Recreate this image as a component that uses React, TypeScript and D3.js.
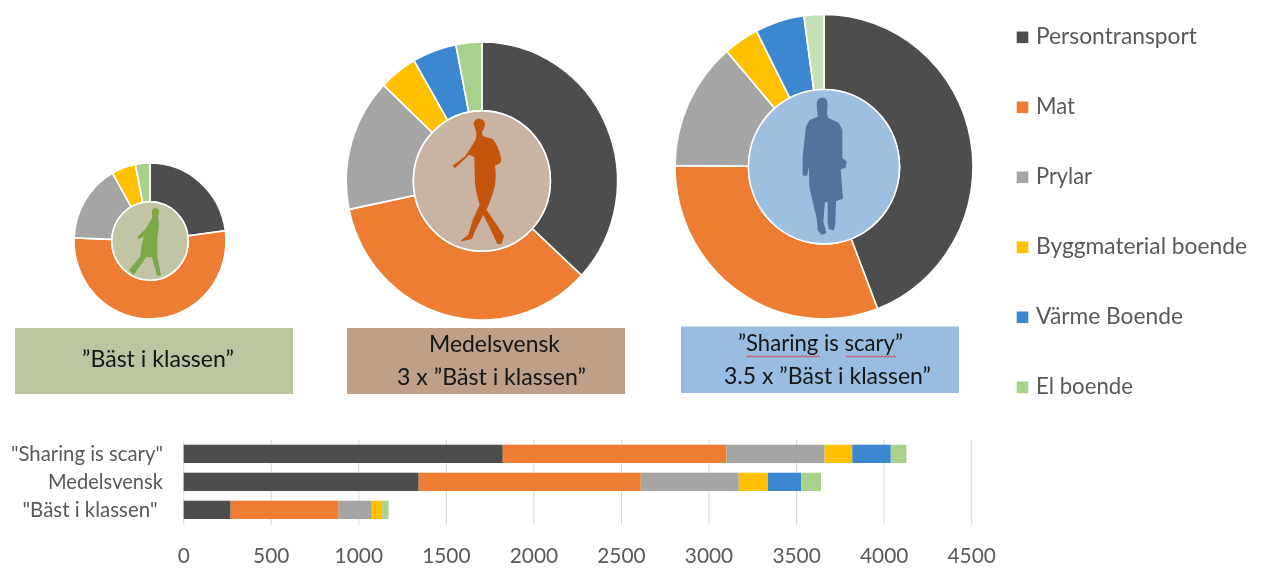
import React from "react";
import * as d3 from "d3";

const categories = ["Persontransport", "Mat", "Prylar", "Byggmaterial boende", "Värme Boende", "El boende"];
const colors = ["#4d4d4d", "#ed7d31", "#a5a5a5", "#ffc000", "#3e86d0", "#a7d18c"];
const sharing = [1822, 1278, 560, 158, 220, 89];
const medel = [1342, 1268, 560, 166, 191, 112];
const bast = [268, 617, 189, 60, 0, 36];
const barLabels = ['"Sharing is scary"', "Medelsvensk", '"Bäst i klassen"'];
const barLabelLengths = [152, 115, 135];
const ticks = [0, 500, 1000, 1500, 2000, 2500, 3000, 3500, 4000, 4500];
const legendLengths = [161, 39, 56, 211, 147, 97];

const FONT = "Lato, 'Open Sans', sans-serif";

const x = d3.scaleLinear().domain([0, 4500]).range([183.7, 971.7]);
const y = d3.scaleBand<string>().domain(barLabels).range([444.7, 519]).paddingInner(0.346).paddingOuter(0);

const orangePerson = "M88 40Q90 28 102 28Q118 30 118 44Q116 58 108 66L112 80L140 88Q158 105 166 145Q168 155 160 160L148 165Q152 200 148 225Q140 260 122 300L150 340L175 378L168 400L158 400L140 360L115 310L88 362L80 385L50 392L72 375L85 330L106 285Q95 250 92 220L90 140L72 132L30 172L25 168L62 140L88 100Q98 85 96 68Z";
const bluePerson = "M82 40Q84 25 97 25Q110 25 111 40L109 70L113 85L145 100L155 120L155 205L168 215L165 232L153 235L150 240L157 325L136 332L134 400L130 420L118 415L115 395L115 335L103 335L98 395L107 428L95 432L85 420L82 385L70 335L60 290L58 210L50 255L40 255L40 200L50 110L60 92L85 82Z";
const greenPerson = "M82 35Q84 25 92 26Q102 28 100 40L97 50L100 75L95 115L95 170L106 225L98 225L82 170L62 170L25 222L15 210L48 170L52 135L60 105L42 115L40 110L62 90L80 60L84 50Z";

const donuts = [
  { values: bast, cx: 150, cy: 241, rx: 76, ry: 78, inner: 38.2, hub: "#c1c5a6", person: greenPerson, personFill: "#7ba84a", px: 125, py: 200, elColor: colors[5] },
  { values: medel, cx: 481.9, cy: 181, rx: 135.7, ry: 139, inner: 68.5, hub: "#c9b3a3", person: orangePerson, personFill: "#c5540f", px: 445, py: 110, elColor: colors[5] },
  { values: sharing, cx: 824, cy: 166.7, rx: 149, ry: 152.3, inner: 75.5, hub: "#9dc0e0", person: bluePerson, personFill: "#55729c", px: 790, py: 90, elColor: "#c5e0b4" },
];

const boxes = [
  { x: 15, y: 328, w: 278, h: 66, fill: "#bac5a2", lines: [{ t: "”Bäst i klassen”", cx: 158, b: 367, len: 152 }] },
  { x: 347, y: 328, w: 278, h: 66, fill: "#bd9f8a", lines: [{ t: "Medelsvensk", cx: 494.5, b: 352, len: 131 }, { t: "3 x ”Bäst i klassen”", cx: 491.5, b: 385, len: 189 }] },
  { x: 681, y: 326.5, w: 278, h: 66.5, fill: "#99bde0", lines: [{ t: "”Sharing is scary”", cx: 820.5, b: 351, len: 165 }, { t: "3.5 x ”Bäst i klassen”", cx: 827.5, b: 384, len: 207 }] },
];

function squiggle(x0: number, x1: number, yy: number) {
  const pts: [number, number][] = [];
  let i = 0;
  for (let px = x0; px <= x1; px += 2, i++) pts.push([px, yy + (i % 2 ? 1.2 : -0.2)]);
  return d3.line()(pts) || "";
}

function Donut({ d }: { d: (typeof donuts)[number] }) {
  const k = d.ry / d.rx;
  const pie = d3.pie<number>().sort(null);
  const arc = d3.arc<d3.PieArcDatum<number>>().innerRadius(d.inner).outerRadius(d.rx);
  const arcs = pie(d.values);
  return (
    <g>
      <g transform={`translate(${d.cx},${d.cy}) scale(1,${k})`}>
        {arcs.map((a, i) =>
          a.value > 0 ? (
            <path key={i} d={arc(a) || ""} fill={i === 5 ? d.elColor : colors[i]} stroke="#fff" strokeWidth={1.6} />
          ) : null
        )}
        <circle r={d.inner} fill={d.hub} stroke="#fff" strokeWidth={1.6} />
      </g>
      <path d={d.person} fill={d.personFill} stroke={d.personFill} strokeWidth={4} strokeLinejoin="round" transform={`translate(${d.px},${d.py}) scale(${1 / 3})`} />
    </g>
  );
}

export default function App() {
  const series = [sharing, medel, bast];
  return (
    <svg width={1265} height={570} viewBox="0 0 1265 570" style={{ position: "absolute", left: 0, top: 0, display: "block", background: "#fff" }} fontFamily={FONT}>
      <defs>
        <filter id="soft" x="-2%" y="-2%" width="104%" height="104%">
          <feGaussianBlur stdDeviation="0.4" />
        </filter>
      </defs>
      <g filter="url(#soft)">
        {donuts.map((d, i) => <Donut key={i} d={d} />)}

        {boxes.map((b, i) => (
          <g key={i}>
            <rect x={b.x} y={b.y} width={b.w} height={b.h} fill={b.fill} />
            {b.lines.map((l, j) => (
              <text key={j} x={l.cx} y={l.b} textAnchor="middle" fontSize={24} fill="#141414" textLength={l.len} lengthAdjust="spacingAndGlyphs">{l.t}</text>
            ))}
          </g>
        ))}
        <path d={squiggle(746, 820, 356)} fill="none" stroke="#d8343a" strokeWidth={0.9} />
        <path d={squiggle(846, 896, 356)} fill="none" stroke="#d8343a" strokeWidth={0.9} />

        {ticks.map((t) => (
          <line key={t} x1={x(t)} x2={x(t)} y1={440} y2={525} stroke="#d9d9d9" strokeWidth={1} />
        ))}
        {series.map((vals, r) => {
          const stack = d3.cumsum(vals);
          return vals.map((v, i) =>
            v > 0 ? (
              <rect key={`${r}-${i}`} x={x(stack[i] - v)} y={y(barLabels[r])} width={x(stack[i]) - x(stack[i] - v)} height={y.bandwidth()} fill={colors[i]} />
            ) : null
          );
        })}
        {barLabels.map((l, r) => (
          <text key={l} x={r === 2 ? 157.5 : 163} y={(y(l) as number) + 16} textAnchor="end" fontSize={20.5} fill="#595959" textLength={barLabelLengths[r]} lengthAdjust="spacingAndGlyphs">{l}</text>
        ))}
        {ticks.map((t) => (
          <text key={t} x={x(t)} y={563} textAnchor="middle" fontSize={21.5} fill="#595959" textLength={String(t).length * 12.1} lengthAdjust="spacingAndGlyphs">{t}</text>
        ))}

        {categories.map((c, i) => (
          <g key={c}>
            <rect x={1016.7} y={31.5 + i * 70} width={11.6} height={11.6} fill={colors[i]} />
            <text x={1036} y={44 + i * 70} fontSize={22.5} fill="#595959" textLength={legendLengths[i]} lengthAdjust="spacingAndGlyphs">{c}</text>
          </g>
        ))}
      </g>
    </svg>
  );
}
